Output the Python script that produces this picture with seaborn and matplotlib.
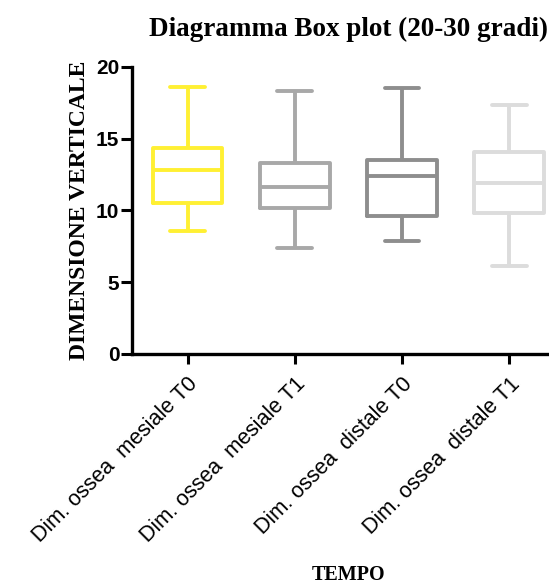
import matplotlib
matplotlib.use("Agg")
import matplotlib.pyplot as plt
import seaborn as sns
import pandas as pd
import numpy as np

categories = ["Dim. ossea  mesiale T0", "Dim. ossea  mesiale T1",
              "Dim. ossea  distale T0", "Dim. ossea  distale T1"]
whisker_low = [8.55, 7.4, 7.9, 6.1]
q1 = [10.5, 10.15, 9.6, 9.85]
median = [12.8, 11.65, 12.4, 11.9]
q3 = [14.35, 13.3, 13.5, 14.05]
whisker_high = [18.6, 18.3, 18.55, 17.35]
colors = ["#FFF033", "#A8A8A8", "#8E8E8E", "#DCDCDC"]
yticks = [0, 5, 10, 15, 20]

rows = []
for i, c in enumerate(categories):
    for v in (whisker_low[i], q1[i], median[i], q3[i], whisker_high[i]):
        rows.append({"cat": c, "val": v})
df = pd.DataFrame(rows)

sns.set_style("ticks")
plt.rcParams["text.color"] = "black"
plt.rcParams["axes.labelcolor"] = "black"
plt.rcParams["xtick.color"] = "black"
plt.rcParams["ytick.color"] = "black"
fig = plt.figure(figsize=(5.49, 5.86), dpi=100)
ax = fig.add_axes([0.240, 0.396, 0.789, 0.490])

sns.boxplot(data=df, x="cat", y="val", hue="cat", palette=colors, order=categories,
            whis=(0, 100), width=0.65, fill=False, linewidth=2.8, legend=False, ax=ax)

ax.set_ylim(0, 20)
ax.set_xlim(-0.52, 3.52)
ax.set_yticks(yticks)
ax.set_yticklabels([str(t) for t in yticks], fontfamily="Liberation Sans",
                   fontweight="bold", fontsize=15, color="black")
ax.set_xticks(range(len(categories)))
ax.set_xticklabels(categories, rotation=45, ha="right", rotation_mode="anchor",
                   fontfamily="Liberation Sans", fontsize=15.5, color="black")
ax.tick_params(axis="y", length=8, width=2.2, color="black", pad=1)
ax.tick_params(axis="x", length=7, width=2.2, color="black", pad=7)
for s in ["left", "bottom"]:
    ax.spines[s].set_linewidth(2.4)
    ax.spines[s].set_color("black")
sns.despine(ax=ax)

ax.set_xlabel("TEMPO", fontfamily="Liberation Serif", fontweight="bold", fontsize=14.5,
              color="black")
ax.xaxis.set_label_coords(0.5, -0.735)
ax.set_ylabel("DIMENSIONE VERTICALE", fontfamily="Liberation Serif", fontweight="bold",
              fontsize=17, labelpad=4, color="black")
ax.set_title("Diagramma Box plot (20-30 gradi)", fontfamily="Liberation Serif",
             fontweight="bold", fontsize=19.5, pad=22, color="black")

fig.savefig("out.png", dpi=100)
